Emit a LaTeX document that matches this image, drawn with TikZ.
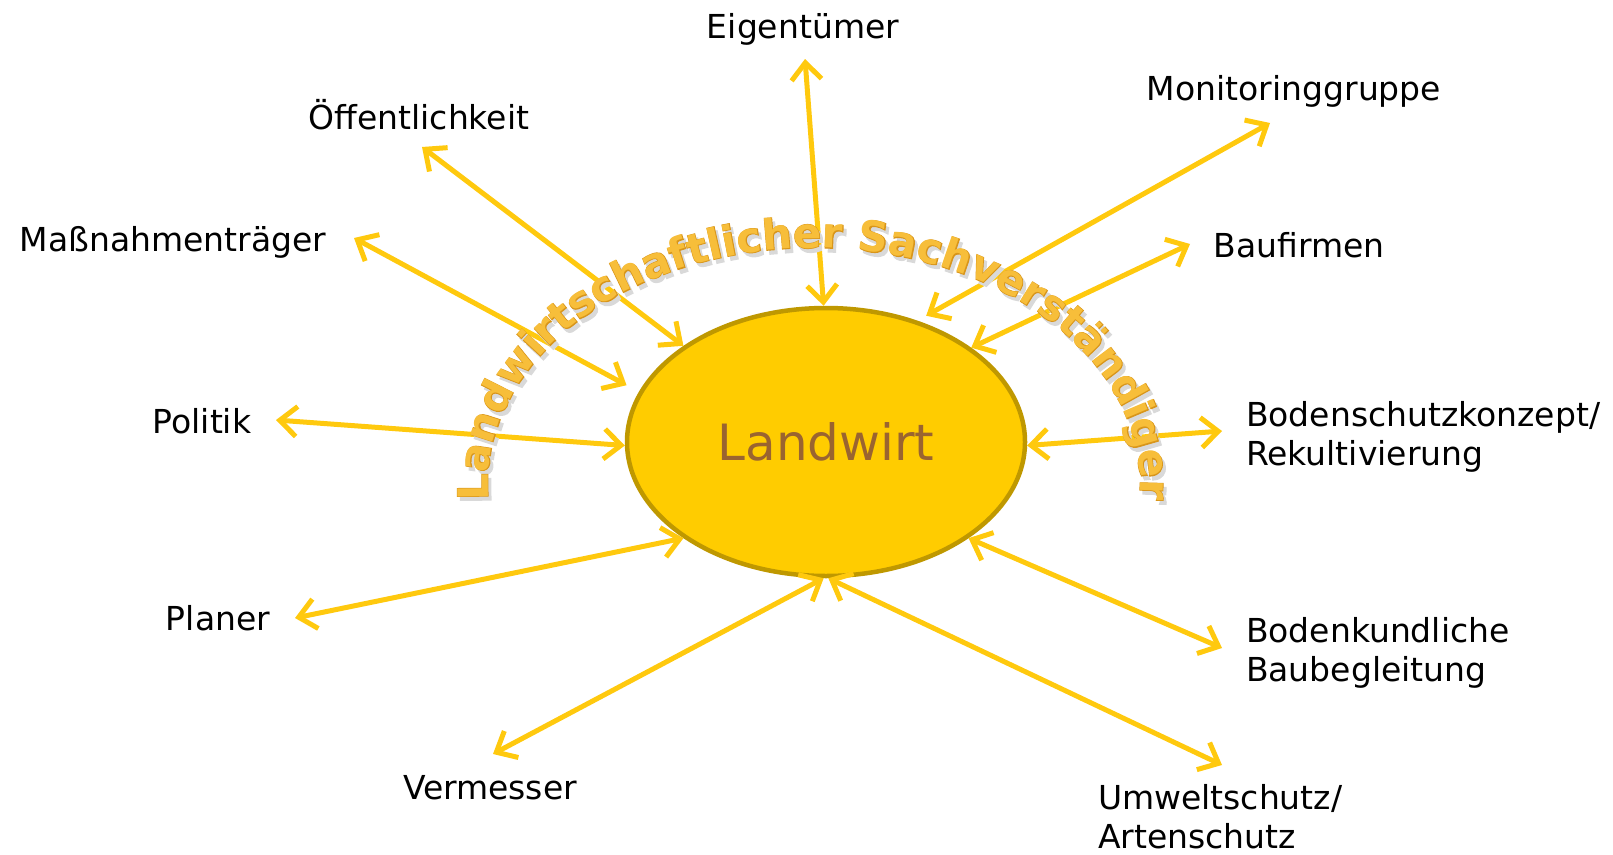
\documentclass[tikz,border=0pt]{standalone}
\usepackage{fontspec}
\setmainfont{DejaVu Sans}
\newfontface\arcface{DejaVu Sans Bold}
\newfontface\arcfaceline{DejaVu Sans Bold}[FakeBold=2.5]
\usepackage{tikz}
\usetikzlibrary{shapes.geometric, arrows.meta, decorations.text}
\definecolor{arrowgold}{HTML}{FFC90E}
\definecolor{farmfill}{HTML}{FFCC00}
\definecolor{farmborder}{HTML}{BF9800}
\definecolor{farmtext}{HTML}{9A6430}
\definecolor{arcgold}{HTML}{F7BE3A}
\definecolor{arcedge}{HTML}{D8951A}
\newcommand{\arcstyle}{\arcface\fontsize{42}{42}\selectfont\color{arcgold}}
\newcommand{\arcline}{\arcfaceline\fontsize{42}{42}\selectfont\color{arcedge}}
\newcommand{\arcshadow}{\arcfaceline\fontsize{42}{42}\selectfont\color{black!15}}
\tikzset{
	labelnode/.style={
			font=\fontsize{33}{39}\selectfont,
			text=black,
			inner sep=0pt,
			outer sep=0pt
		},
	farmnode/.style={
			ellipse,
			draw=farmborder,
			line width=4.5pt,
			fill=farmfill,
			minimum width=398pt,
			minimum height=268pt,
			inner sep=0pt,
			text=farmtext,
			font=\fontsize{50}{60}\selectfont
		},
	link/.style={
			draw=arrowgold,
			line width=5pt,
			line cap=round,
			line join=round,
			>={Straight Barb[length=17pt, width=30pt]}
		},
	arcpath/.style={
			decorate,
			decoration={text along path, text align=center, text={|#1|Landwirtschaftlicher Sachverständiger}}
		}
}

\begin{document}
\begin{tikzpicture}[x=1pt, y=1pt]
\useasboundingbox (0,0) rectangle (1613,-854);

\node (lw) at (826,-442) [farmnode] {Landwirt};

\node (eig) at (803,-38) [labelnode, anchor=base] {Eigentümer};
\node (oeff) at (419,-129) [labelnode, anchor=base] {Öffentlichkeit};
\node (mass) at (173,-251) [labelnode, anchor=base] {Maßnahmenträger};
\node (pol) at (202,-433) [labelnode, anchor=base] {Politik};
\node (plan) at (218,-630) [labelnode, anchor=base] {Planer};
\node (verm) at (490,-799) [labelnode, anchor=base] {Vermesser};
\node (mon) at (1294,-100) [labelnode, anchor=base] {Monitoringgruppe};
\node (bau) at (1299,-257) [labelnode, anchor=base] {Baufirmen};
\node (bsk) at (1246,-437) [labelnode, anchor=west, align=left] {Bodenschutzkonzept/\\Rekultivierung};
\node (bkb) at (1246,-653) [labelnode, anchor=west, align=left] {Bodenkundliche\\Baubegleitung};
\node (umw) at (1098,-817) [labelnode, anchor=west, align=left] {Umweltschutz/\\Artenschutz};

\coordinate (eigtip) at (805,-59);
\coordinate (oefftip) at (422,-147);
\coordinate (masstip) at (354,-238);
\coordinate (poltip) at (276,-420);
\coordinate (plantip) at (295,-618);
\coordinate (vermtip) at (493,-754);
\coordinate (montip) at (1270,-123);
\coordinate (bautip) at (1190,-244);
\coordinate (bsktip) at (1222,-431);
\coordinate (bkbtip) at (1222,-648);
\coordinate (umwtip) at (1222,-765);

\draw[link, <->] (lw.91) -- (eigtip);
\draw[link, <->] (lw.146.6) -- (oefftip);
\draw[link, <->, shorten <=14pt] (lw.165) -- (masstip);
\draw[link, <->] (lw.181) -- (poltip);
\draw[link, <->] (lw.214) -- (plantip);
\draw[link, <->] (lw.269) -- (vermtip);
\draw[link, <->, shorten <=10pt] (lw.53) -- (montip);
\draw[link, <->] (lw.33) -- (bautip);
\draw[link, <->] (lw.359) -- (bsktip);
\draw[link, <->] (lw.326) -- (bkbtip);
\draw[link, <->] (lw.271) -- (umwtip);

\coordinate (arcmid) at (814,-485);
\path[arcpath=\arcshadow] ([shift={(3,-4)}]arcmid) ++(200:326 and 237) arc[start angle=200, end angle=-20, x radius=326, y radius=237];
\path[arcpath=\arcline] (arcmid) ++(200:326 and 237) arc[start angle=200, end angle=-20, x radius=326, y radius=237];
\path[arcpath=\arcstyle] (arcmid) ++(200:326 and 237) arc[start angle=200, end angle=-20, x radius=326, y radius=237];

\end{tikzpicture}
\end{document}
